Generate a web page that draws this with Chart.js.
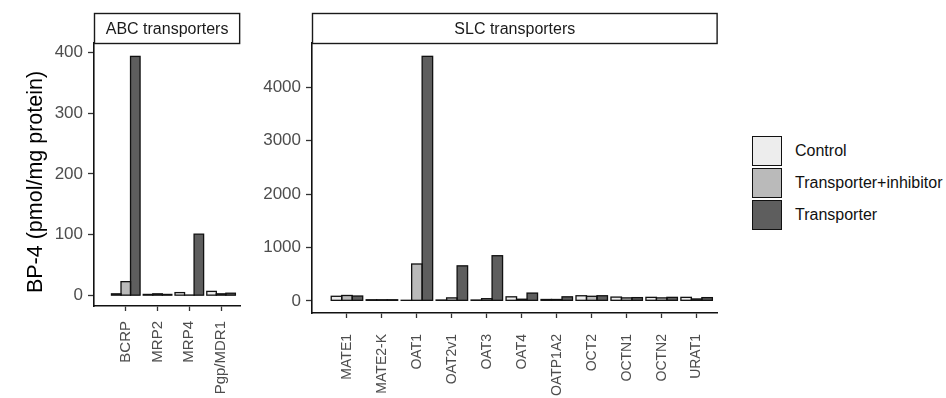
<!DOCTYPE html>
<html><head><meta charset="utf-8">
<script src="https://cdn.jsdelivr.net/npm/chart.js@4"></script>
<style>
html,body{margin:0;padding:0;background:#fff;width:946px;height:398px;overflow:hidden;font-family:'Liberation Sans',Arial,sans-serif;}
#abc{position:absolute;left:0;top:0;}
#slc{position:absolute;left:250px;top:0;}
#legend{position:absolute;left:752px;top:136px;}
.item{display:flex;align-items:center;height:30px;margin-bottom:2px;}
.key{width:30px;height:30px;box-sizing:border-box;border:1.6px solid #111;}
.lab{margin-left:13px;font-size:16px;color:#111;}
</style></head>
<body>
<canvas id="abc" width="250" height="398"></canvas>
<canvas id="slc" width="480" height="398"></canvas>
<div id="legend"></div>
<script>
// ---- data ----
const seriesNames = ['Control', 'Transporter+inhibitor', 'Transporter'];
const seriesColors = ['#ededed', '#bababa', '#5e5e5e'];

const abcCategories = ['BCRP', 'MRP2', 'MRP4', 'Pgp/MDR1'];
const abcControl = [3, 2, 5, 7];
const abcInhibitor = [23, 3, 1, 3];
const abcTransporter = [393, 2, 101, 4];
const abcTicks = [0, 100, 200, 300, 400];

const slcCategories = ['MATE1', 'MATE2-K', 'OAT1', 'OAT2v1', 'OAT3', 'OAT4', 'OATP1A2', 'OCT2', 'OCTN1', 'OCTN2', 'URAT1'];
const slcControl = [85, 20, 10, 15, 15, 75, 25, 95, 70, 65, 65];
const slcInhibitor = [100, 20, 690, 55, 40, 30, 25, 85, 55, 55, 35];
const slcTransporter = [90, 20, 4580, 655, 845, 145, 75, 95, 60, 65, 60];
const slcTicks = [0, 1000, 2000, 3000, 4000];

const yTitle = 'BP-4 (pmol/mg protein)';

// ---- drawing ----
Chart.defaults.font.family = "'Liberation Sans', Arial, sans-serif";

const stripPlugin = {
  id: 'strip',
  afterDraw(chart, args, opts) {
    const {ctx, chartArea} = chart;
    const top = 13.5, h = 30;
    ctx.save();
    ctx.fillStyle = '#ffffff';
    ctx.fillRect(chartArea.left, top, chartArea.right - chartArea.left, h);
    ctx.strokeStyle = '#1a1a1a';
    ctx.lineWidth = 1.4;
    ctx.strokeRect(chartArea.left + 0.5, top, chartArea.right - chartArea.left - 1, h);
    ctx.fillStyle = '#1a1a1a';
    ctx.font = "16px 'Liberation Sans', Arial, sans-serif";
    ctx.textAlign = 'center';
    ctx.textBaseline = 'middle';
    ctx.fillText(opts.text, (chartArea.left + chartArea.right) / 2, top + h / 2 + 1);
    if (opts.yTitle) {
      ctx.save();
      ctx.translate(opts.yTitleX, opts.yTitleY);
      ctx.rotate(-Math.PI / 2);
      ctx.fillStyle = '#000';
      ctx.font = "21.5px 'Liberation Sans', Arial, sans-serif";
      ctx.fillText(opts.yTitle, 0, 0);
      ctx.restore();
    }
    ctx.restore();
  }
};

// outlines centred on the bar edges (ggplot style)
const outlinePlugin = {
  id: 'outline',
  afterDatasetsDraw(chart) {
    const ctx = chart.ctx;
    ctx.save();
    ctx.strokeStyle = '#111';
    ctx.lineWidth = 1.3;
    chart.data.datasets.forEach((ds, di) => {
      const meta = chart.getDatasetMeta(di);
      meta.data.forEach(el => {
        const p = el.getProps(['x', 'y', 'base', 'width'], true);
        const top = Math.min(p.y, p.base), hgt = Math.abs(p.base - p.y);
        ctx.strokeRect(p.x - p.width / 2, top, p.width, hgt);
      });
    });
    ctx.restore();
  }
};

function makeChart(id, cats, ctrl, inh, tr, ticks, cfg) {
  const vals = [ctrl, inh, tr];
  const datasets = vals.map((arr, k) => ({
    label: seriesNames[k],
    data: arr.map((v, i) => ({x: i + 1, y: v})),
    backgroundColor: seriesColors[k],
    borderWidth: 0,
    categoryPercentage: 0.9,
    barPercentage: 1.0
  }));
  return new Chart(document.getElementById(id), {
    type: 'bar',
    data: {datasets},
    plugins: [outlinePlugin, stripPlugin],
    options: {
      responsive: false,
      animation: false,
      devicePixelRatio: 1,
      layout: {padding: {top: 43, right: cfg.padRight, left: 0, bottom: 0}},
      plugins: {legend: {display: false}, tooltip: {enabled: false},
        strip: {text: cfg.strip, yTitle: cfg.title, yTitleX: 36, yTitleY: 182}},
      scales: {
        x: {
          type: 'linear',
          offset: false,
          min: 0,
          max: cats.length + 0.6,
          afterBuildTicks: (s) => { s.ticks = cats.map((c, i) => ({value: i + 1})); },
          afterFit: (s) => { s.height = cfg.xHeight; },
          ticks: {
            autoSkip: false,
            maxRotation: 90, minRotation: 90,
            padding: cfg.xPad,
            color: '#4d4d4d',
            font: {size: cfg.xFont},
            callback: (v) => cats[Math.round(v) - 1] || ''
          },
          grid: {display: true, drawOnChartArea: false, drawTicks: true, tickLength: 5, tickColor: '#333', tickWidth: 1.3, offset: false},
          border: {display: true, color: '#111', width: 1.6}
        },
        y: {
          type: 'linear',
          min: cfg.yMin, max: cfg.yMax,
          afterBuildTicks: (s) => { s.ticks = ticks.map(v => ({value: v})); },
          afterFit: (s) => { s.width = cfg.yWidth; },
          ticks: {color: '#4d4d4d', font: {size: 17}, padding: 5, callback: (v) => String(v)},
          grid: {display: true, drawOnChartArea: false, drawTicks: true, tickLength: 6, tickColor: '#333', tickWidth: 1.3},
          border: {display: true, color: '#111', width: 1.6},
          title: {display: false}
        }
      }
    }
  });
}

makeChart('abc', abcCategories, abcControl, abcInhibitor, abcTransporter, abcTicks,
  {strip: 'ABC transporters', padRight: 7, yWidth: 94, xHeight: 92, xPad: 10, xFont: 15, yMin: -17, yMax: 415, title: yTitle});
makeChart('slc', slcCategories, slcControl, slcInhibitor, slcTransporter, slcTicks,
  {strip: 'SLC transporters', padRight: 11, yWidth: 62, xHeight: 85, xPad: 16, xFont: 14, yMin: -228, yMax: 4830, title: null});

// legend
const leg = document.getElementById('legend');
seriesNames.forEach((n, k) => {
  const it = document.createElement('div'); it.className = 'item';
  const key = document.createElement('div'); key.className = 'key'; key.style.background = seriesColors[k];
  const lab = document.createElement('span'); lab.className = 'lab'; lab.textContent = n;
  it.appendChild(key); it.appendChild(lab); leg.appendChild(it);
});
</script>
</body></html>
